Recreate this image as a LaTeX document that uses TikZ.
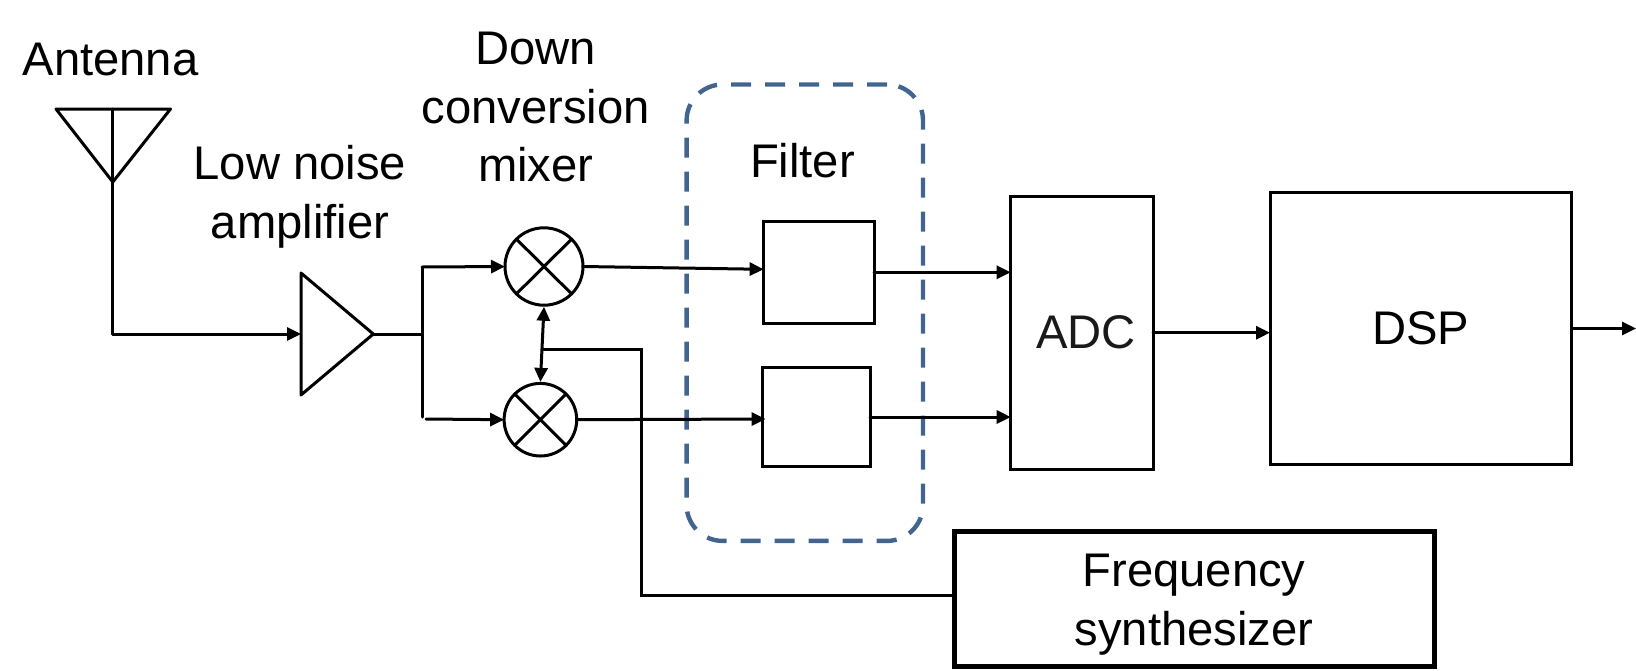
\documentclass[tikz,border=0pt]{standalone}
\usepackage{fontspec}
\setmainfont{Liberation Sans}
\usetikzlibrary{arrows.meta,shapes.geometric,calc}
\definecolor{dashblue}{HTML}{41658F}
\tikzset{
  wire/.style={line width=1.5pt,black,line cap=round,line join=miter},
  arrowwire/.style={wire,-{Triangle[length=7pt,width=6.5pt]}},
  twoway/.style={wire,{Triangle[length=7pt,width=6.5pt]}-{Triangle[length=7pt,width=6.5pt]}},
  box/.style={draw=black,line width=1.5pt,rectangle,inner sep=0pt,outer sep=0pt,align=center,font=\lblfont},
  mixer/.style={draw=black,line width=1.5pt,ellipse,inner sep=0pt,outer sep=0pt},
  label/.style={inner sep=0pt,outer sep=0pt,align=center,font=\lblfont},
  dashbox/.style={draw=dashblue,line width=2.2pt,rectangle,rounded corners=18pt,dash pattern=on 10pt off 7pt,inner sep=0pt,outer sep=0pt}
}
\newcommand{\lblfont}{\fontsize{23.6}{29.4}\selectfont}
\begin{document}
\begin{tikzpicture}[x=0.5pt,y=-0.5pt]
\useasboundingbox (0,0) rectangle (1636,670);
% dashed group
\node[dashbox,minimum width=118.2pt,minimum height=228.2pt] (group) at (804.8,312.7) {};
% labels
\node[label] (antennaLabel) at (110.5,59) {Antenna};
\node[label] (lnaLabel) at (300,196.5) {Low noise\\amplifier};
\node[label] (mixLabel) at (535.8,107) {Down\\conversion\\mixer};
\node[label] (filtLabel) at (802.5,161) {Filter};
% blocks
\node[box,minimum width=55.2pt,minimum height=51.25pt] (f1) at (818.8,272.3) {};
\node[box,minimum width=53.7pt,minimum height=49.8pt] (f2) at (816.3,417) {};
\node[box,minimum width=71.15pt,minimum height=136.3pt] (adc) at (1081.85,332.7) {\hspace{4pt}\textcolor{black!90}{ADC}};
\node[box,minimum width=150.85pt,minimum height=135.8pt] (dsp) at (1420.85,328.5) {DSP};
\node[box,line width=2.5pt,minimum width=240pt,minimum height=67.5pt] (synth) at (1194,598.5) {\rule{0pt}{22pt}Frequency\\synthesizer};
\node[mixer,minimum width=39pt,minimum height=38.7pt] (m1) at (544,266.5) {};
\node[mixer,minimum width=36.3pt,minimum height=36.3pt] (m2) at (540.4,419.7) {};
\draw[wire] (m1.north west) -- (m1.south east) (m1.north east) -- (m1.south west);
\draw[wire] (m2.north west) -- (m2.south east) (m2.north east) -- (m2.south west);
% antenna
\coordinate (antL) at (56,109);
\coordinate (antR) at (170.5,109);
\coordinate (antTop) at (112.8,109);
\coordinate (antTip) at (112.8,182);
\draw[wire,line join=round] (antL) -- (antR) -- (antTip) -- cycle;
% amplifier
\coordinate (ampA) at (301,273);
\coordinate (ampB) at (301,395);
\coordinate (ampOut) at (373.3,334);
\coordinate (ampIn) at (301,334);
\draw[wire,line join=round] (ampA) -- (ampOut) -- (ampB) -- cycle;
% connectors
\coordinate (antBend) at (112.8,334);
\draw[wire] (antTop) -- (antBend);
\draw[arrowwire] (antBend) -- (ampIn);
\coordinate (split) at (422,334);
\coordinate (splitTop) at (422,267);
\coordinate (splitBot) at (422,417);
\coordinate (splitBotB) at (426,419);
\draw[wire] (ampOut) -- (split);
\draw[wire] (splitTop) -- (splitBot);
\draw[arrowwire] (splitTop) -- (m1.west);
\draw[arrowwire] (splitBotB) -- (m2.west);
\draw[arrowwire] (m1.east) -- ($(f1.west)+(0,-3)$);
\draw[arrowwire] (m2.east) -- ($(f2.west)+(3,2)$);
\draw[arrowwire] (f1.east) -- (f1.east -| adc.west);
\draw[arrowwire] (f2.east) -- (f2.east -| adc.west);
\draw[arrowwire] (adc.east) -- (adc.east -| dsp.west);
\coordinate (out) at (1636,328.5);
\draw[arrowwire] (dsp.east) -- (out);
\draw[twoway] ($(m1.south)+(0,1.5)$) -- ($(m2.north)+(0,-1.5)$);
\coordinate (tap) at (543,349);
\coordinate (synthCorner) at (641.8,349);
\draw[wire] (tap) -- (synthCorner) |- ($(synth.west)+(0,-3)$);
\end{tikzpicture}
\end{document}
